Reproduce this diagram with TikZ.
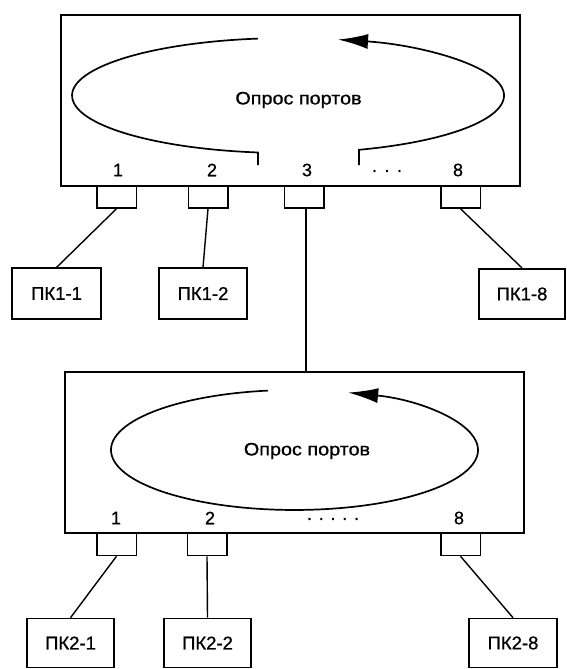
\documentclass[tikz,border=0pt]{standalone}
\usepackage{fontspec}
\setmainfont{Liberation Sans}[FakeBold=0.8]
\usetikzlibrary{arrows.meta}
\begin{document}
\begin{tikzpicture}[x=1pt,y=-1pt,
  line join=miter,
  unit/.style={draw,line width=1.8pt,fill=white,inner sep=0pt,minimum width=459pt},
  portbox/.style={draw,line width=1.5pt,fill=white,inner sep=0pt,minimum width=39.5pt,minimum height=22pt},
  pcbox/.style={draw,line width=1.6pt,fill=white,inner sep=0pt,minimum height=50.5pt,
    font=\fontsize{18.5}{20}\selectfont},
  plabel/.style={inner sep=0pt,font=\fontsize{18}{20}\selectfont},
  wire/.style={line width=1.4pt},
  ring/.style={line width=1.7pt},
  ringarrow/.style={ring,-{Latex[length=30pt,width=15pt]}},
  caption/.style={inner sep=0pt,font=\fontsize{18}{20}\selectfont}]
\useasboundingbox (0,0) rectangle (566,669);

% ---------- first switch ----------
\node[unit,minimum height=171pt] (sw1) at (290.5,100.5) {};
\node[caption] (poll1) at (298.5,100) {\scalebox{1.1}[1]{Опрос портов}};
% polling loop
\draw[ring] (258,38.6) arc[start angle=262,end angle=98,x radius=216,y radius=57.5] -- (258,165);
\draw[ringarrow] (359,165) -- ++(0,-15.2) arc[start angle=70.8,end angle=-76.6,x radius=216,y radius=57.5];
% port numbers
\node[plabel] (n11) at (118,170) {1};
\node[plabel] (n12) at (212,170) {2};
\node[plabel] (n13) at (307,170) {3};
\node[plabel] (n1d) at (387,171) {.\hspace{7.5pt}.\hspace{7.5pt}.};
\node[plabel] (n18) at (458,170) {8};
% ports
\node[portbox] (p11) at (116.5,197) {};
\node[portbox] (p12) at (208,197) {};
\node[portbox] (p13) at (304,197) {};
\node[portbox] (p18) at (460.5,197) {};
% computers
\node[pcbox,minimum width=89pt] (pc11) at (56.5,293.5) {ПК1-1};
\node[pcbox,minimum width=88pt] (pc12) at (203,293.5) {ПК1-2};
\node[pcbox,minimum width=86pt] (pc18) at (522,294) {ПК1-8};
\draw[wire] (p11.south) -- (pc11.north);
\draw[wire] (p12.south) -- (pc12.north);
\draw[wire] (p18.south) -- (pc18.north);

% ---------- second switch ----------
\node[unit,minimum height=161pt] (sw2) at (294.5,452.5) {};
\node[caption] (poll2) at (307,451) {\scalebox{1.1}[1]{Опрос портов}};
\draw[ringarrow] (268,390.6) arc[start angle=261.7,end angle=-73,x radius=183.5,y radius=60];
\node[plabel] (n21) at (116,518) {1};
\node[plabel] (n22) at (210,518) {2};
\node[plabel] (n2d) at (333,519) {.\hspace{6.8pt}.\hspace{6.8pt}.\hspace{6.8pt}.\hspace{6.8pt}.};
\node[plabel] (n28) at (459,518) {8};
\node[portbox] (p21) at (116.5,544.5) {};
\node[portbox] (p22) at (207,544.5) {};
\node[portbox] (p28) at (460.5,544.5) {};
\node[pcbox,minimum width=87pt,minimum height=49pt] (pc21) at (70.5,643) {ПК2-1};
\node[pcbox,minimum width=87pt,minimum height=49pt] (pc22) at (207.5,643) {ПК2-2};
\node[pcbox,minimum width=88pt,minimum height=49pt] (pc28) at (513,643) {ПК2-8};
\draw[wire] (p21.south) -- (pc21.north);
\draw[wire] (p22.south) -- (pc22.north);
\draw[wire] (p28.south) -- (pc28.north);

% ---------- uplink between the switches ----------
\draw[wire] ([xshift=2pt]p13.south) -- ([xshift=2pt]p13.south |- sw2.north);
\end{tikzpicture}
\end{document}
